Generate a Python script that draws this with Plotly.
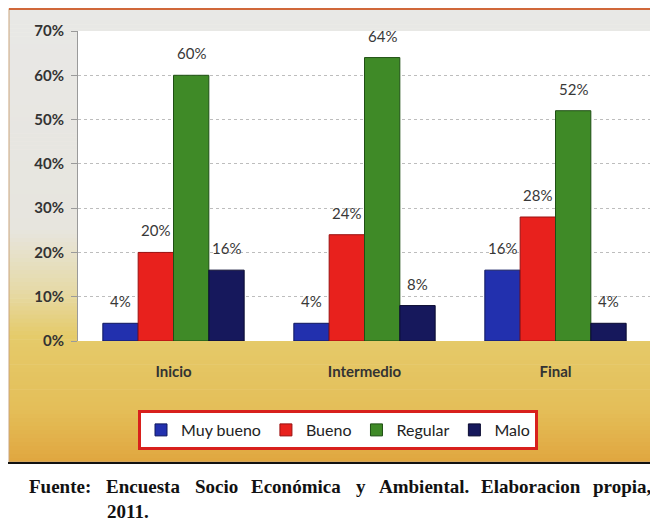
"""Bar chart: valoración por etapas (Inicio / Intermedio / Final)."""

import plotly.graph_objects as go

categories = ["Inicio", "Intermedio", "Final"]
muy_bueno = [4, 4, 16]
bueno = [20, 24, 28]
regular = [60, 64, 52]
malo = [16, 8, 4]

series = [
    ("Muy bueno", muy_bueno, "#2230ae", "#10185e"),
    ("Bueno", bueno, "#e8211d", "#9a1010"),
    ("Regular", regular, "#3f8a27", "#1f4f14"),
    ("Malo", malo, "#16185c", "#0a0b30"),
]

footer_words = ["Fuente:", "Encuesta", "Socio", "Económica", "y",
                "Ambiental.", "Elaboracion", "propia,"]
footer_x = [27, 104, 193, 249, 354, 377, 479, 591]

# page has an 8px body margin, so the figure starts at (8, 8)
OFF = 8
W, H = 658 - OFF, 527 - OFF
L, R, T, B = 78, 651, 31, 341  # plot area, page pixels

BARGAP = 0.26


def px(x):
    return (x - L) / (R - L)


def py(y):
    return (B - y) / (B - T)


def mix(c1, c2, t):
    a = [int(c1[i:i + 2], 16) for i in (1, 3, 5)]
    b = [int(c2[i:i + 2], 16) for i in (1, 3, 5)]
    return "rgb(%d,%d,%d)" % tuple(round(a[k] + (b[k] - a[k]) * t) for k in range(3))


# background gradient stops (page y, colour)
stops = [
    (8, "#e8e8e6"),
    (230, "#e7e5de"),
    (290, "#e6daa8"),
    (335, "#e5cb6b"),
    (410, "#e4be58"),
    (462, "#e0a63f"),
]

fig = go.Figure()
for name, vals, color, edge in series:
    fig.add_trace(
        go.Bar(
            x=categories,
            y=vals,
            name=name,
            marker=dict(color=color, line=dict(color=edge, width=1)),
        )
    )

# value labels above each bar
group_px = (R - L) / len(categories) * (1 - BARGAP)
bar_px = group_px / len(series)
annotations = []
for k, (name, vals, color, edge) in enumerate(series):
    for cat, v in zip(categories, vals):
        annotations.append(dict(
            x=cat, y=v, xref="x", yref="y",
            text=f"{v}%", showarrow=False,
            xanchor="center", yanchor="bottom",
            xshift=(k - (len(series) - 1) / 2) * bar_px,
            yshift=11,
            font=dict(family="Lato", size=15, color="#383838"),
        ))

shapes = []
for (y0, c0), (y1, c1) in zip(stops[:-1], stops[1:]):
    n = max(1, (y1 - y0) // 4)
    for i in range(n):
        ya = y0 + (y1 - y0) * i / n
        yb = y0 + (y1 - y0) * (i + 1) / n
        shapes.append(dict(
            type="rect", xref="paper", yref="paper", layer="below",
            x0=px(9), x1=px(656), y0=py(ya), y1=py(yb + 0.6),
            fillcolor=mix(c0, c1, (i + 0.5) / n), line=dict(width=0),
        ))
# white plot area
shapes.append(dict(
    type="rect", xref="paper", yref="paper", layer="below",
    x0=0, x1=1, y0=0, y1=1, fillcolor="white", line=dict(width=0),
))
# outer frame
shapes.append(dict(
    type="rect", xref="paper", yref="paper", layer="below",
    x0=px(9), x1=px(656), y0=py(462), y1=py(8.5),
    fillcolor="rgba(0,0,0,0)", line=dict(color="#c9a47c", width=1),
))
shapes.append(dict(
    type="line", xref="paper", yref="paper", layer="below",
    x0=px(9), x1=px(656), y0=py(9), y1=py(9),
    line=dict(color="#d0683a", width=2),
))
# footer box
shapes.append(dict(
    type="rect", xref="paper", yref="paper", layer="above",
    x0=px(7), x1=px(670), y0=py(540), y1=py(463),
    fillcolor="white", line=dict(color="#111111", width=2),
))

for word, x in zip(footer_words, footer_x):
    annotations.append(dict(
        text=f"<b>{word}</b>",
        xref="paper", yref="paper", x=px(x), y=py(486),
        xanchor="left", yanchor="middle", showarrow=False,
        font=dict(family="Liberation Serif", size=19, color="#111111"),
    ))
annotations.append(dict(
    text="<b>2011.</b>",
    xref="paper", yref="paper", x=px(105), y=py(511),
    xanchor="left", yanchor="middle", showarrow=False,
    font=dict(family="Liberation Serif", size=19, color="#111111"),
))

fig.update_layout(
    width=W,
    height=H,
    margin=dict(l=L - OFF, r=W - (R - OFF), t=T - OFF, b=H - (B - OFF)),
    paper_bgcolor="white",
    plot_bgcolor="white",
    barmode="group",
    bargap=BARGAP,
    bargroupgap=0,
    font=dict(family="Lato", size=14, color="#333333"),
    shapes=shapes,
    annotations=annotations,
    legend=dict(
        orientation="h",
        x=px(338),
        y=py(410),
        xanchor="center",
        yanchor="top",
        bgcolor="white",
        bordercolor="#d8201c",
        borderwidth=3,
        font=dict(family="Lato", size=16, color="#222222"),
        itemwidth=30,
        tracegroupgap=0,
    ),
    xaxis=dict(
        showgrid=False,
        showline=False,
        ticks="",
        ticklabelstandoff=20,
        tickfont=dict(family="Lato", size=15, color="#333333", weight="bold"),
    ),
    yaxis=dict(
        range=[0, 70],
        dtick=10,
        ticksuffix="%",
        showgrid=True,
        gridcolor="#bdbdbd",
        gridwidth=1,
        griddash="dot",
        showline=True,
        linecolor="#9a9a9a",
        ticks="outside",
        ticklen=6,
        tickcolor="#9a9a9a",
        ticklabelstandoff=4,
        zeroline=False,
        tickfont=dict(family="Lato", size=15, color="#333333", weight="bold"),
    ),
)

fig.write_html("out.html")
